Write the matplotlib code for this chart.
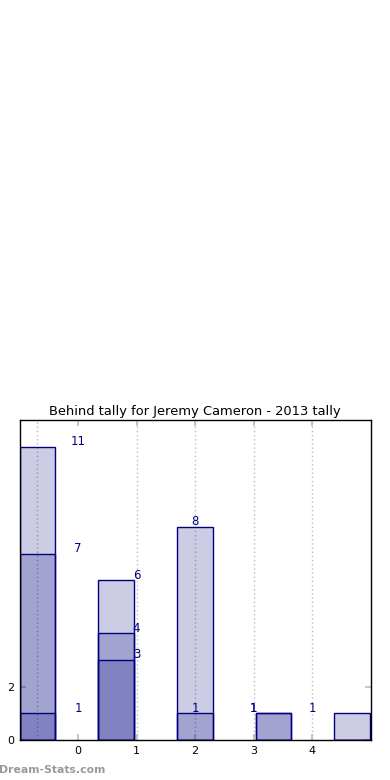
import matplotlib
matplotlib.use("Agg")
import matplotlib.pyplot as plt
import numpy as np

# Data
categories = ["0", "1", "2", "3", "4"]
series_a = [11, 6, 8, 1, 1]
series_b = [7, 4, 1, 1, 0]
series_c = [1, 3, 0, 0, 0]
title = "Behind tally for Jeremy Cameron - 2013 tally"

fig = plt.figure(figsize=(3.9, 7.8), dpi=100)
ax = fig.add_axes([0.05, 0.0513, 0.9, 0.4097])

idx = np.arange(len(categories))
bar_left = -1 + idx * 1.345
bar_w = 0.61
face = (0, 0, 0.5, 0.2)

for vals in (series_a, series_b, series_c):
    ax.bar(bar_left, vals, width=bar_w, align="edge", facecolor=face,
           edgecolor="navy", linewidth=1.0, zorder=2)
    for i, v in zip(idx, vals):
        if v > 0:
            ax.text(i, v - 0.05, str(v), ha="center", va="bottom", color="navy",
                    fontsize=8.5, zorder=3)

ax.set_xlim(-1, 5)
ax.set_ylim(0, 12)
ax.set_xticks(idx)
ax.set_xticklabels(categories, fontsize=8)
ax.set_yticks([0, 2])
ax.set_yticklabels(["0", "2"], fontsize=8)
ax.tick_params(direction="in", length=4, color="#bbbbbb", width=1.2,
               top=True, right=True, pad=4)

for gx in [-0.7, 1, 2, 3, 4]:
    ax.axvline(gx, color="#bbbbbb", linestyle=(0, (1, 2)), linewidth=1.0, zorder=1)
ax.axhline(0, color="#bbbbbb", linestyle=(0, (1, 2)), linewidth=1.0, zorder=1)

for s in ax.spines.values():
    s.set_color("black")
    s.set_linewidth(1.0)

ax.set_title(title, fontsize=9.4, pad=4)

fig.text(-0.003, 0.0128, "Dream-Stats.com", color="#9a9a9a", fontsize=7.8,
         fontweight="semibold", ha="left", va="center")

fig.savefig("out.png", dpi=100)
